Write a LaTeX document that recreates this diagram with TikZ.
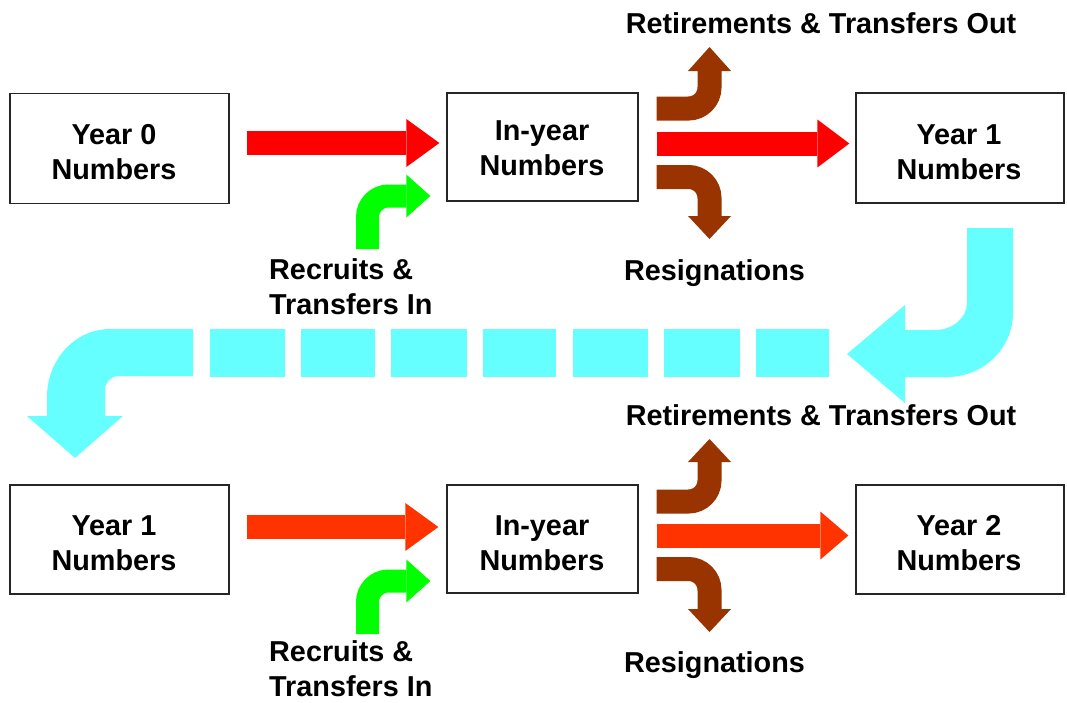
\documentclass[tikz,border=0pt]{standalone}
\usepackage{fontspec}
\setmainfont{Liberation Sans}
\usetikzlibrary{arrows.meta}
\definecolor{cyanA}{HTML}{66FFFF}
\definecolor{redA}{HTML}{FF0000}
\definecolor{orangeA}{HTML}{FF3300}
\definecolor{brownA}{HTML}{993300}
\definecolor{greenA}{HTML}{00FF00}
\begin{document}
\begin{tikzpicture}[x=1pt,y=-1pt,
  lbl/.style={font=\fontsize{28.8}{35}\selectfont\bfseries, inner sep=0pt},
  box/.style={draw=black!85, line width=1.3pt, inner sep=0pt},
  straight/.style={line width=24pt},
  bent/.style={line width=24pt, rounded corners=21pt},
  bigtip/.style={-{Triangle[length=#1,width=48pt,line width=0pt]}},
  smalltip/.style={-{Triangle[length=#1,width=43pt,line width=0pt]}},
]
\fill[white] (0,0) rectangle (1067,702);
\useasboundingbox (0,0) rectangle (1067,702);

% boxes
\node[box, minimum width=219pt, minimum height=110pt] (y0) at (119.5,148.5) {};
\node[box, minimum width=191pt, minimum height=108pt] (in1) at (542.5,147) {};
\node[box, minimum width=208pt, minimum height=110pt] (y1) at (960,148) {};
\node[box, minimum width=219pt, minimum height=109pt] (y1b) at (119.5,539.5) {};
\node[box, minimum width=191pt, minimum height=108pt] (in2) at (542.5,539) {};
\node[box, minimum width=208pt, minimum height=109pt] (y2) at (960,539.5) {};

% box texts
\node[lbl, align=center] (y0t) at (114,152.5) {Year 0\\Numbers};
\node[lbl, align=center] (in1t) at (542,148.5) {In-year\\Numbers};
\node[lbl, align=center] (y1t) at (959,152.5) {Year 1\\Numbers};
\node[lbl, align=center] (y1bt) at (114,543.5) {Year 1\\Numbers};
\node[lbl, align=center] (in2t) at (542,543.5) {In-year\\Numbers};
\node[lbl, align=center] (y2t) at (959,543.5) {Year 2\\Numbers};

% labels
\node[lbl, anchor=base] (ret1) at (821,33) {Retirements \& Transfers Out};
\node[lbl, anchor=base] (res1) at (714.5,280) {Resignations};
\node[lbl, align=left, anchor=north west] (rec1) at (269,258.5) {Recruits \&\\Transfers In};
\node[lbl, anchor=base] (ret2) at (821,425) {Retirements \& Transfers Out};
\node[lbl, anchor=base] (res2) at (714.5,672) {Resignations};
\node[lbl, align=left, anchor=north west] (rec2) at (269,640) {Recruits \&\\Transfers In};

% free ends of the bent arrows
\coordinate (ret1tip) at (709.5,47);
\coordinate (res1tip) at (709.5,239);
\coordinate (rec1foot) at (367.5,249);
\coordinate (ret2tip) at (709.5,439);
\coordinate (res2tip) at (709.5,632);
\coordinate (rec2foot) at (367.5,634);

% straight arrows
\draw[straight, redA, bigtip=33pt] ([shift={(17,-5.5)}]y0.east) -- ([shift={(-7,-4)}]in1.west);
\draw[straight, redA, bigtip=32pt] ([shift={(18,-3.5)}]in1.east) -- ([shift={(-6,-4.5)}]y1.west);
\draw[straight, orangeA, bigtip=33pt] ([shift={(17,-12.5)}]y1b.east) -- ([shift={(-8,-12)}]in2.west);
\draw[straight, orangeA, bigtip=28pt] ([shift={(18,-3.5)}]in2.east) -- ([shift={(-7,-4)}]y2.west);

% brown bent arrows
\draw[bent, brownA, smalltip=24pt] ([shift={(18,-38.5)}]in1.east) -- (ret1tip |- 0,108.5) -- (ret1tip);
\draw[bent, brownA, smalltip=23pt] ([shift={(18,30)}]in1.east) -- (res1tip |- 0,177) -- (res1tip);
\draw[bent, brownA, smalltip=23pt] ([shift={(18,-37.5)}]in2.east) -- (ret2tip |- 0,501.5) -- (ret2tip);
\draw[bent, brownA, smalltip=23pt] ([shift={(18,30)}]in2.east) -- (res2tip |- 0,569) -- (res2tip);

% green bent arrows
\draw[bent, greenA, line width=23pt, smalltip=24pt] (rec1foot) -- (rec1foot |- 0,196) -- ([shift={(-16,49)}]in1.west);
\draw[bent, greenA, line width=23pt, smalltip=24pt] (rec2foot) -- (rec2foot |- 0,581) -- ([shift={(-16,42)}]in2.west);

% cyan return arrow (right part)
\fill[cyanA] (967,228) -- (1013,228) -- (1013,313)
  .. controls (1013,348.3) and (983.4,377) .. (947,377)
  -- (905,377) -- (905,403) -- (847,354) -- (905,305) -- (905,330) -- (935,330)
  .. controls (952.7,330) and (967,317.9) .. (967,303) -- cycle;
% dashes
\foreach \a/\b in {210/285, 301/375, 391/467, 483/556, 573/648, 664/740, 756/829}
  \fill[cyanA] (\a,329) rectangle (\b,377);
% cyan return arrow (left part)
\fill[cyanA] (193,329) -- (110,329)
  .. controls (75.2,329) and (47,359.5) .. (47,397)
  -- (47,416) -- (27,416) -- (75,458) -- (123,416) -- (105,416) -- (105,390)
  .. controls (105,382) and (111,376) .. (119,376) -- (193,376) -- cycle;
\end{tikzpicture}
\end{document}
